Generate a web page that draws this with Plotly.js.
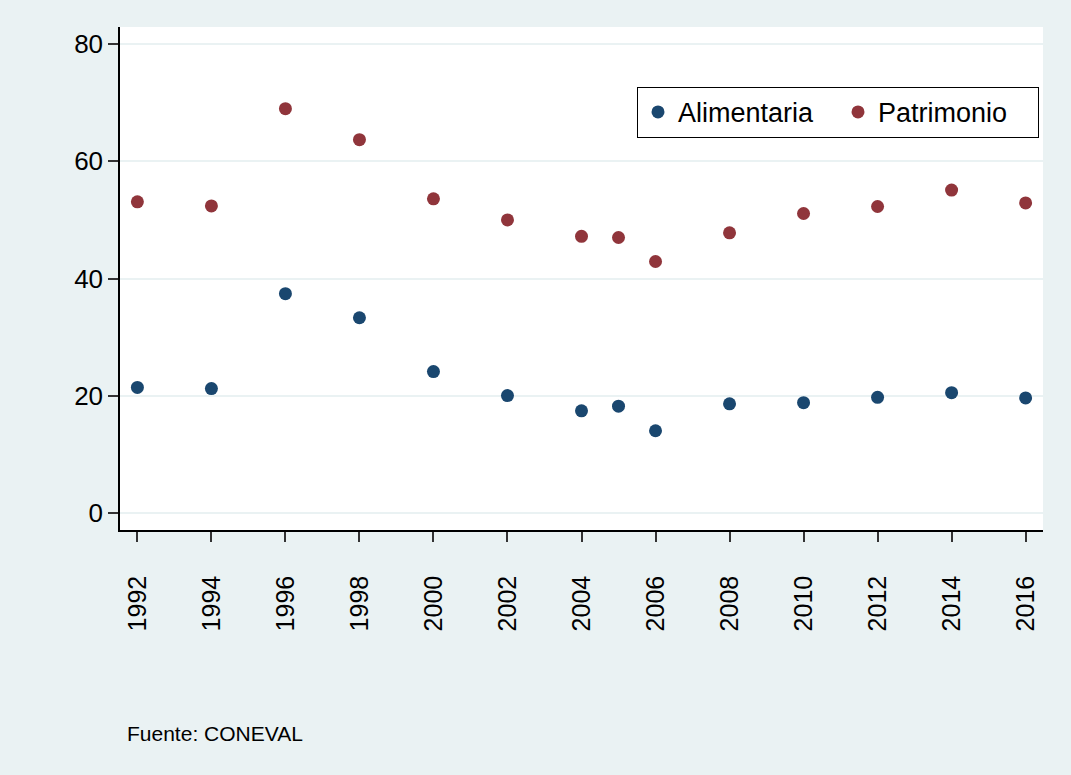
<!DOCTYPE html>
<html><head><meta charset="utf-8">
<script src="https://cdn.plot.ly/plotly-3.0.1.min.js"></script>
<style>html,body{margin:0;padding:0;background:#EAF2F3;}</style>
</head><body>
<div id="chart" style="width:1071px;height:775px;"></div>
<script>
const years = [1992, 1994, 1996, 1998, 2000, 2002, 2004, 2005, 2006, 2008, 2010, 2012, 2014, 2016];
const alimentaria = [21.4, 21.2, 37.4, 33.3, 24.1, 20.0, 17.4, 18.2, 14.0, 18.6, 18.8, 19.7, 20.5, 19.6];
const patrimonio = [53.1, 52.4, 69.0, 63.7, 53.6, 50.0, 47.2, 47.0, 42.9, 47.8, 51.1, 52.3, 55.1, 52.9];
const xTicks = [1992, 1994, 1996, 1998, 2000, 2002, 2004, 2006, 2008, 2010, 2012, 2014, 2016];
const yTicks = [0, 20, 40, 60, 80];

const font = "Liberation Sans, Arial, sans-serif";
const traces = [
  {x: years, y: alimentaria, name: "Alimentaria", type: "scatter", mode: "markers",
   marker: {color: "#1a476f", size: 13}},
  {x: years, y: patrimonio, name: "Patrimonio", type: "scatter", mode: "markers",
   marker: {color: "#90353b", size: 13}}
];
const layout = {
  width: 1071, height: 775,
  paper_bgcolor: "#EAF2F3", plot_bgcolor: "#FFFFFF",
  margin: {l: 120, r: 28, t: 27, b: 245},
  font: {family: font, color: "#000", size: 25},
  showlegend: true,
  legend: {orientation: "h", x: (637-120)/923, y: 0.881, xanchor: "left", yanchor: "top",
    bordercolor: "#000", borderwidth: 1, bgcolor: "#fff",
    font: {size: 27, family: font}, itemwidth: 30, entrywidth: 155},
  xaxis: {range: [1991.53, 2016.47], tickvals: xTicks, ticktext: xTicks.map(String),
    tickangle: -90, ticks: "outside", ticklen: 10, tickcolor: "#333", tickwidth: 1.5,
    showgrid: false, zeroline: false, showline: true, linecolor: "#000", linewidth: 1.5,
    ticklabelstandoff: 24, tickfont: {size: 25}},
  yaxis: {range: [-2.95, 82.95], tickvals: yTicks, ticktext: yTicks.map(String),
    ticks: "outside", ticklen: 10, tickcolor: "#333", tickwidth: 1.5,
    showgrid: true, gridcolor: "#EAF2F3", gridwidth: 1.5, zeroline: false,
    showline: true, linecolor: "#000", linewidth: 1.5, tickfont: {size: 26}},
  annotations: [{text: "Fuente: CONEVAL", xref: "paper", yref: "paper",
    x: 5/923, y: -(733-530)/503, xanchor: "left", yanchor: "middle", showarrow: false,
    font: {size: 21, family: font}}]
};
Plotly.newPlot("chart", traces, layout, {displayModeBar: false});
</script>
</body></html>
